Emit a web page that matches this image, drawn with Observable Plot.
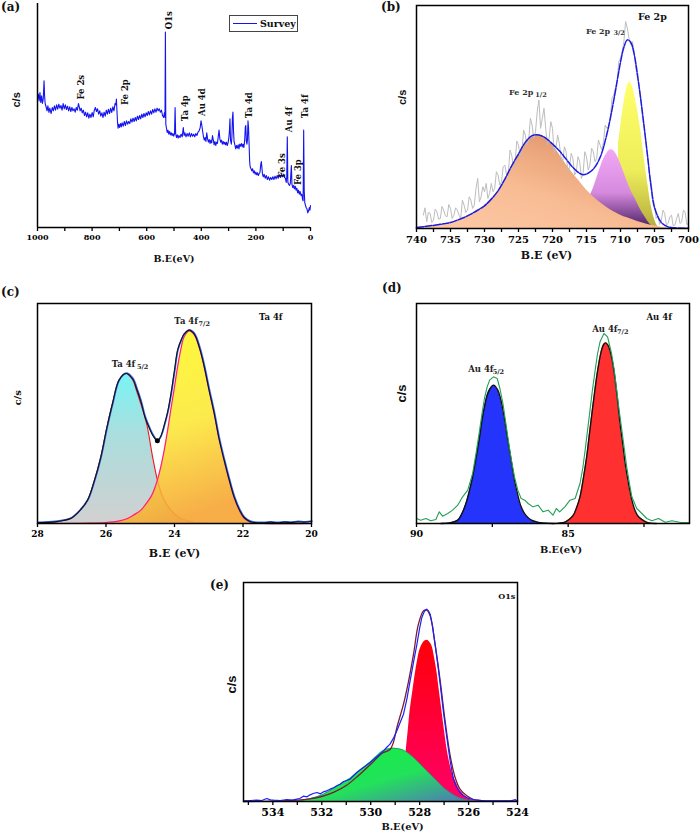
<!DOCTYPE html>
<html><head><meta charset="utf-8">
<script src="https://cdn.jsdelivr.net/npm/d3@7"></script>
<script src="https://cdn.jsdelivr.net/npm/@observablehq/plot@0.6"></script>
<style>
html,body{margin:0;padding:0;background:#fff;}
#fig{position:relative;width:700px;height:839px;overflow:hidden;background:#fff;}
.pn{position:absolute;}
.lab{position:absolute;font-family:"DejaVu Serif";font-weight:bold;font-size:12px;line-height:12px;color:#111;}
</style></head><body><div id="fig"></div><script>
// ---------- DATA (binding energy eV, intensity arbitrary counts) ----------
const survey = [[1000,385],[997,400],[994,380],[991,405],[988,375],[985,395],[982,372],[979,385],[976,440],[974,395],[972,372],[968,360],[965,350],[962,365],[958,345],[955,358],[950,342],[946,360],[942,350],[938,365],[934,352],[930,368],[926,355],[922,370],[918,358],[914,366],[910,352],[906,372],[902,356],[898,368],[894,354],[890,364],[886,350],[882,362],[878,348],[874,360],[870,350],[866,356],[862,346],[858,360],[854,352],[850,372],[847,362],[844,350],[840,358],[836,344],[832,352],[828,336],[824,346],[820,332],[816,344],[812,328],[808,340],[804,330],[800,345],[796,332],[792,352],[788,360],[784,348],[780,356],[776,340],[772,350],[768,334],[764,344],[760,330],[756,346],[752,334],[748,352],[744,340],[740,355],[736,342],[732,358],[728,345],[724,362],[720,350],[716,372],[713,368],[711,385],[709,350],[707,318],[705,298],[702,310],[699,300],[696,312],[693,302],[690,314],[686,304],[682,318],[678,306],[674,320],[670,310],[666,318],[662,312],[658,326],[654,316],[650,328],[646,318],[642,330],[638,320],[634,334],[630,324],[626,336],[622,326],[618,340],[614,330],[610,342],[606,332],[602,344],[598,336],[594,348],[590,338],[586,350],[582,340],[578,354],[574,344],[570,356],[566,346],[562,358],[558,350],[554,356],[550,346],[546,352],[542,336],[538,330],[535,345],[533,330],[531.5,586],[530,310],[528,300],[525,285],[522,292],[519,280],[516,288],[513,278],[510,284],[507,276],[504,282],[501,274],[498,282],[496,360],[494,282],[491,270],[488,278],[485,268],[482,276],[478,270],[474,280],[470,272],[466,300],[463,276],[460,284],[456,272],[452,282],[448,274],[444,284],[440,272],[436,282],[432,274],[428,280],[424,272],[420,282],[416,276],[412,286],[408,290],[404,300],[401,320],[398,306],[395,288],[392,272],[389,262],[386,270],[383,258],[380,284],[377,266],[374,256],[371,264],[368,252],[365,262],[362,254],[359,276],[356,262],[353,248],[350,258],[347,246],[344,256],[341,252],[338,272],[335,292],[332,266],[329,256],[326,262],[323,250],[320,258],[317,250],[314,256],[311,248],[308,256],[305,246],[302,254],[299,270],[297,290],[295,326],[293,262],[290,250],[288,270],[286,330],[284,346],[282,290],[280,258],[277,248],[274,236],[271,246],[268,238],[265,248],[262,236],[259,250],[256,244],[253,252],[250,242],[247,250],[244,240],[241,262],[239,300],[237,306],[235,260],[233,250],[231,262],[229,320],[227,300],[225,252],[223,200],[221,182],[218,176],[215,170],[212,176],[209,164],[206,170],[203,160],[200,166],[197,158],[194,164],[191,156],[188,162],[185,166],[182,190],[180,198],[178,180],[176,160],[173,152],[170,160],[166,148],[162,156],[158,144],[154,152],[150,142],[146,150],[142,144],[138,152],[134,144],[130,154],[126,146],[122,156],[118,148],[114,158],[110,150],[106,160],[102,152],[98,160],[95,150],[92,148],[89,135],[87,150],[85,272],[83,136],[80,130],[77,126],[74,132],[71,175],[70,186],[68,130],[65,120],[62,126],[59,116],[56,124],[53,112],[50,118],[47,104],[44,112],[41,100],[38,108],[35,96],[32,100],[29,84],[27,80],[25,292],[23,110],[21,75],[19,68],[16,60],[13,56],[10,44],[7,50],[4,60],[2,52],[0,66]];
const surveyPeakNames = ["Fe 2s","Fe 2p","O1s","Ta 4p","Au 4d","Ta 4d","Au 4f","Ta 4f","Fe 3s","Fe 3p"];
const surveyPeakBE = [840, 678, 519, 458, 397, 223, 77, 18, 104, 45];
const surveyPeakY = [421, 406, 622, 358, 376, 367, 324, 364, 186, 166];

const fe2pRaw = [[739,40],[738.75,62],[738.5,20],[738.25,48],[738,45],[737.75,18],[737.5,25],[737.25,58],[737,50],[736.75,28],[736.5,30],[736.25,66],[736,55],[735.75,38],[735.5,35],[735.25,72],[735,60],[734.75,30],[734.5,40],[734.25,62],[734,55],[733.75,40],[733.5,30],[733.25,85],[733,70],[732.75,48],[732.5,55],[732.25,95],[732,85],[731.75,60],[731.5,70],[731.25,120],[731,150],[730.75,80],[730.5,95],[730.25,125],[730,110],[729.75,135],[729.5,90],[729.25,105],[729,135],[728.75,110],[728.5,120],[728.25,170],[728,160],[727.75,130],[727.5,140],[727.25,185],[727,190],[726.75,160],[726.5,165],[726.25,235],[726,220],[725.75,185],[725.5,200],[725.25,262],[725,250],[724.75,215],[724.5,230],[724.25,295],[724,280],[723.75,250],[723.5,265],[723.25,330],[723,310],[722.75,270],[722.5,290],[722.25,350],[722,385],[721.75,300],[721.5,330],[721.25,360],[721,300],[720.75,250],[720.5,270],[720.25,320],[720,300],[719.75,225],[719.5,240],[719.25,280],[719,255],[718.75,215],[718.5,200],[718.25,245],[718,230],[717.75,170],[717.5,180],[717.25,225],[717,210],[716.75,160],[716.5,170],[716.25,215],[716,200],[715.75,150],[715.5,165],[715.25,230],[715,215],[714.75,175],[714.5,190],[714.25,240],[714,230],[713.75,200],[713.5,210],[713.25,265],[713,250],[712.75,235],[712.5,260],[712.25,310],[712,300],[711.75,305],[711.5,330],[711.25,390],[711,400],[710.75,420],[710.5,440],[710.25,500],[710,510],[709.75,530],[709.5,560],[709.25,620],[709,600],[708.75,570],[708.5,550],[708.25,560],[708,530],[707.75,480],[707.5,450],[707.25,430],[707,390],[706.75,330],[706.5,300],[706.25,260],[706,220],[705.75,165],[705.5,140],[705.25,95],[705,70],[704.75,30],[704.5,40],[704.25,12],[704,25],[703.75,55],[703.5,45],[703.25,10],[703,15],[702.75,35],[702.5,40],[702.25,8],[702,10],[701.75,30],[701.5,45],[701.25,15],[701,20],[700.75,55],[700.5,50],[700.25,12],[700,15]];
const fe2pEnvelope = [[740,3],[738,8],[736,14],[735,18],[734,25],[733,33],[732,43],[731,55],[730,68],[729,88],[728,113],[727,148],[726,188],[725,223],[724,258],[723,278],[722,280],[721,271],[720,253],[719,233],[718,208],[717,183],[716,165],[715.5,161],[715,163],[714,178],[713,213],[712,283],[711,383],[710,498],[709.5,543],[709,565],[708.5,558],[708,523],[707,383],[706,213],[705.5,125],[705,63],[704,18],[703,5],[702,2],[700,1]];
const fe2p12 = [[740,3],[738,8],[736,14],[735,18],[734,25],[733,33],[732,43],[731,55],[730,68],[729,88],[728,113],[727,148],[726,188],[725,223],[724,258],[723,278],[722,280],[721,271],[720,250],[719,222],[718,192],[717,165],[716,140],[715,115],[714,95],[713,78],[712,63],[711,50],[710,40],[709,32],[708,25],[707,18],[706,12],[705,8],[704,4],[703,2],[702,0],[700,0]];
const fe2pSat = [[714.6,92],[714,120],[713.5,150],[713,180],[712.5,207],[712,225],[711.5,236],[711,233],[710.5,218],[710,195],[709.5,168],[709,140],[708.5,115],[708,95],[707.5,75],[707,55],[706.5,38],[706,22],[705.5,10],[705,3],[704.6,0]];
const fe2p32 = [[710.3,253],[710,300],[709.5,375],[709,425],[708.7,438],[708.4,433],[708,405],[707.5,355],[707,290],[706.5,210],[706,135],[705.5,70],[705,28],[704.5,6],[704,0]];

const ta4fEnvelope = [[28,2],[27.5,5],[27.25,9],[27.03,15],[26.8,35],[26.54,70],[26.35,125],[26.15,200],[25.98,285],[25.81,360],[25.62,430],[25.42,450],[25.23,435],[25.1,402],[24.98,365],[24.86,318],[24.74,287],[24.62,262],[24.5,248],[24.4,262],[24.3,295],[24.2,335],[24.11,385],[24.0,460],[23.91,520],[23.8,552],[23.72,568],[23.57,580],[23.45,572],[23.38,560],[23.25,520],[23.13,470],[23.0,405],[22.84,330],[22.7,255],[22.55,190],[22.4,130],[22.26,80],[22.1,40],[21.97,18],[21.8,6],[21.67,3],[21.4,2],[21.2,4],[21.0,2],[20.8,4],[20.6,3],[20.4,5],[20.2,4],[20,6]];
const ta4f52 = [[28,1],[27.5,4],[27.25,9],[27.03,15],[26.8,35],[26.54,70],[26.35,125],[26.15,200],[25.98,285],[25.81,360],[25.62,430],[25.42,450],[25.23,432],[25.1,396],[24.98,358],[24.88,325],[24.79,288],[24.64,200],[24.5,130],[24.4,95],[24.3,70],[24.11,40],[23.95,24],[23.82,15],[23.6,7],[23.43,3],[23.2,1],[23,0]];
const ta4f72 = [[28,0],[26.5,1],[26,3],[25.6,8],[25.37,15],[25.2,25],[24.98,40],[24.84,58],[24.69,80],[24.6,100],[24.5,130],[24.4,170],[24.3,220],[24.2,280],[24.11,340],[24.0,410],[23.91,470],[23.8,530],[23.72,560],[23.57,578],[23.45,570],[23.38,558],[23.25,518],[23.13,468],[23.0,403],[22.84,328],[22.7,253],[22.55,188],[22.4,128],[22.26,78],[22.1,38],[21.97,16],[21.8,5],[21.67,2],[21.4,0],[20,0]];
const ta4fDip = [[24.5,248]];

const au4fRaw = [[90,15],[89.86,10],[89.69,15],[89.53,8],[89.36,12],[89.25,35],[89.14,22],[88.97,30],[88.81,40],[88.64,55],[88.48,80],[88.31,100],[88.15,150],[88.03,215],[87.92,280],[87.84,330],[87.76,375],[87.67,410],[87.59,430],[87.46,440],[87.34,435],[87.25,405],[87.15,360],[87.07,310],[86.99,260],[86.88,195],[86.77,140],[86.66,100],[86.55,75],[86.43,70],[86.32,60],[86.16,50],[85.99,55],[85.83,35],[85.66,40],[85.5,25],[85.39,45],[85.28,35],[85.11,50],[84.94,70],[84.77,75],[84.61,120],[84.52,165],[84.44,220],[84.36,280],[84.28,340],[84.2,400],[84.11,460],[84.03,510],[83.95,545],[83.82,570],[83.7,560],[83.57,510],[83.48,460],[83.4,400],[83.32,340],[83.23,280],[83.15,225],[83.07,170],[82.98,120],[82.9,80],[82.74,45],[82.57,30],[82.41,15],[82.24,8],[82.02,15],[81.8,4],[81.58,8],[81.3,3],[81,3]];
const au4f52 = [[89.2,0],[88.9,2],[88.64,10],[88.5,30],[88.37,60],[88.25,100],[88.15,140],[88.03,200],[87.92,260],[87.84,310],[87.76,350],[87.67,385],[87.59,402],[87.46,415],[87.32,400],[87.23,375],[87.15,340],[87.07,298],[86.99,250],[86.88,190],[86.77,130],[86.66,85],[86.55,50],[86.4,25],[86.21,10],[86.0,4],[85.88,2],[85.5,0]];
const au4f72 = [[85.5,0],[85.3,1],[85.11,4],[84.97,12],[84.83,25],[84.72,48],[84.61,80],[84.5,135],[84.39,200],[84.31,260],[84.23,320],[84.14,385],[84.06,440],[83.98,485],[83.9,520],[83.83,537],[83.76,542],[83.69,535],[83.62,518],[83.53,480],[83.45,430],[83.37,368],[83.29,300],[83.2,238],[83.12,180],[83.0,115],[82.9,70],[82.8,40],[82.68,20],[82.5,8],[82.35,2],[82.1,0]];

const o1sRaw = [[535.2,2],[534.9,3],[534.66,4],[534.45,3],[534.25,9],[534.1,5],[533.97,4],[533.7,3],[533.43,6],[533.2,4],[533.02,7],[532.9,9],[532.75,16],[532.6,14],[532.48,20],[532.35,24],[532.2,27],[532.05,23],[531.93,29],[531.8,32],[531.66,37],[531.5,42],[531.39,47],[531.25,52],[531.11,60],[530.98,63],[530.84,67],[530.7,78],[530.57,87],[530.43,95],[530.3,102],[530.15,110],[530.02,117],[529.88,126],[529.75,134],[529.6,143],[529.48,152],[529.35,162],[529.21,172],[529.07,190],[528.93,212],[528.8,236],[528.66,262],[528.52,308],[528.39,362],[528.25,418],[528.11,472],[528.0,520],[527.91,552],[527.81,570],[527.71,577],[527.64,572],[527.57,562],[527.47,525],[527.37,472],[527.26,412],[527.16,352],[527.03,270],[526.89,192],[526.75,120],[526.62,67],[526.48,42],[526.35,27],[526.2,17],[526.07,12],[525.95,8],[525.8,6],[525.6,4],[525.39,2],[525.1,2],[524.85,2],[524.6,2],[524.3,2],[524.15,4],[524.1,6],[524.05,3],[524,2]];
const o1sEnvelope = [[535.2,0],[534,1],[533,4],[532.5,8],[532,15],[531.5,28],[531,48],[530.5,78],[530,112],[529.5,146],[529.21,156],[529.07,178],[528.93,222],[528.66,292],[528.45,362],[528.25,442],[528.05,532],[527.84,572],[527.71,574],[527.57,557],[527.37,472],[527.16,362],[526.96,242],[526.75,137],[526.55,72],[526.35,37],[526.07,17],[525.8,6],[525.4,2],[524,1]];
const o1sOH = [[533.2,0],[532.75,4],[532.3,12],[531.93,22],[531.6,36],[531.25,52],[530.84,70],[530.57,86],[530.3,102],[530.0,120],[529.75,137],[529.55,150],[529.34,157],[529.07,160],[528.86,158],[528.66,154],[528.45,144],[528.25,132],[528.05,118],[527.84,102],[527.64,87],[527.43,72],[527.23,57],[527.03,42],[526.82,30],[526.62,20],[526.41,12],[526.21,7],[526.05,4],[525.94,2],[525.6,0]];
const o1sLattice = [[528.55,152],[528.47,210],[528.39,272],[528.28,330],[528.18,382],[528.08,425],[527.98,457],[527.87,474],[527.77,482],[527.68,484],[527.59,478],[527.5,467],[527.4,435],[527.3,392],[527.2,335],[527.09,272],[526.99,215],[526.89,162],[526.79,122],[526.69,92],[526.58,70],[526.48,52],[526.38,37],[526.28,27],[526.17,18],[526.07,12],[525.87,4],[525.66,2],[525.5,0]];

// annotation labels: [main text, sub text, x, y, subX, subY]
const fe2pLabels = [["Fe 2p", "3/2", 713.3, 591, 710.2, 585], ["Fe 2p", "1/2", 724.6, 408, 721.7, 401]];
const ta4fLabels = [["Ta 4f", "7/2", 23.66, 607, 23.13, 600], ["Ta 4f", "5/2", 25.49, 477, 24.93, 469]];
const au4fLabels = [["Au 4f", "7/2", 83.79, 582, 83.2, 574], ["Au 4f", "5/2", 87.88, 463, 87.3, 455]];

// ---------- helpers ----------
const SERIF = "DejaVu Serif", SANS = "Liberation Sans";
const pts = a => a.map(([x, y]) => ({x, y}));
const fig = document.getElementById("fig");

function addGradient(svg, id, x1, y1, x2, y2, stops) {
  let defs = d3.select(svg).select("defs");
  if (defs.empty()) defs = d3.select(svg).insert("defs", ":first-child");
  const g = defs.append("linearGradient").attr("id", id)
    .attr("x1", x1).attr("y1", y1).attr("x2", x2).attr("y2", y2);
  stops.forEach(([o, c]) => g.append("stop").attr("offset", o).attr("stop-color", c));
}

function panel(o) {
  const chart = Plot.plot({
    width: o.w, height: o.h,
    marginTop: o.m[0], marginRight: o.m[1], marginBottom: o.m[2], marginLeft: o.m[3],
    x: {domain: o.xd, axis: null, label: null},
    y: {domain: [0, o.ymax], axis: null, label: null},
    style: {background: "transparent", fontFamily: SERIF, fontWeight: "bold", fontSize: o.tickFont + "px", color: "#000", overflow: "visible"},
    marks: [
      ...o.marks,
      o.frame ? Plot.frame({stroke: "#000", strokeWidth: 1.5})
              : [Plot.ruleX([o.xd[0]], {stroke: "#000", strokeWidth: 1.5}), Plot.ruleY([0], {stroke: "#000", strokeWidth: 1.5})],
      Plot.axisX({ticks: o.ticks, tickFormat: d => o.showLabel(d) ? String(d) : "", tickSize: 4, tickPadding: 3,
                  strokeWidth: 1.3, fontSize: o.tickFont, fontWeight: "bold", label: null}),
      Plot.text([o.xLabel[0]], {text: d => d, frameAnchor: "bottom", dx: o.xLabel[1], dy: o.xLabel[2],
                  fontSize: o.xLabel[3], fontWeight: "bold", fontFamily: SERIF, fill: "#111"}),
      Plot.text([o.yLabel[0]], {text: d => d, frameAnchor: "left", rotate: -90, dx: o.yLabel[1], dy: o.yLabel[2],
                  fontSize: o.yLabel[3], fontFamily: o.yLabel[4], fontWeight: "bold", fill: "#111"})
    ]
  });
  (o.gradients || []).forEach(g => addGradient(chart, ...g));
  const div = document.createElement("div");
  div.className = "pn";
  div.style.left = o.left + "px"; div.style.top = o.top + "px";
  div.style.width = o.w + "px"; div.style.height = o.h + "px";
  div.appendChild(chart);
  fig.appendChild(div);
}

function subLabels(labels, mainSize, subSize, fill) {
  return [
    Plot.text(labels, {x: d => d[2], y: d => d[3], text: d => d[0], fontSize: mainSize, fontWeight: "bold", fontFamily: SERIF, fill}),
    Plot.text(labels, {x: d => d[4], y: d => d[5], text: d => d[1], fontSize: subSize, fontWeight: "bold", fontFamily: SERIF, fill})
  ];
}
function label(text, left, top) {
  const d = document.createElement("div");
  d.className = "lab"; d.textContent = text;
  d.style.left = left + "px"; d.style.top = top + "px";
  fig.appendChild(d);
}

// ---------- (a) survey ----------
panel({
  left: 0, top: 0, w: 350, h: 270, m: [3, 40, 43, 37],
  xd: [1000, 0], ymax: 672, frame: false,
  ticks: d3.range(0, 1001, 100), showLabel: d => d % 200 === 0, tickFont: 8,
  xLabel: ["B.E(eV)", 0, 34, 9.5], yLabel: ["c/s", -21, -8, 11, SANS],
  marks: [
    Plot.line(pts(survey), {x: "x", y: "y", stroke: "#1414f0", strokeWidth: 1.1}),
    Plot.text(surveyPeakNames, {x: (d, i) => surveyPeakBE[i], y: (d, i) => surveyPeakY[i], text: d => d, rotate: -90,
      fontSize: 8.5, fontWeight: "bold", fontFamily: SERIF, fill: "#111"})
  ]
});
// legend
{
  const lg = document.createElement("div");
  lg.style.cssText = "position:absolute;left:229px;top:15px;width:69px;height:17px;border:1px solid #444;box-sizing:border-box;background:#fff;";
  const ln = document.createElement("div");
  ln.style.cssText = "position:absolute;left:3px;top:7px;width:24px;border-top:1.3px solid #1414f0;";
  const tx = document.createElement("div");
  tx.textContent = "Survey";
  tx.style.cssText = "position:absolute;left:30px;top:2px;font-family:'DejaVu Serif';font-weight:bold;font-size:9.5px;line-height:11px;color:#111;";
  lg.appendChild(ln); lg.appendChild(tx); fig.appendChild(lg);
}

// ---------- (b) Fe 2p ----------
panel({
  left: 350, top: 0, w: 350, h: 270, m: [5, 12, 42, 66],
  xd: [740, 700], ymax: 668, frame: true,
  ticks: d3.range(700, 740.1, 2.5), showLabel: d => d % 5 === 0, tickFont: 10,
  xLabel: ["B.E (eV)", -6, 30, 11], yLabel: ["c/s", -14, -12, 11, SANS],
  gradients: [
    ["gB1", 0, 1, 1, 0, [[0, "#fdcaa6"], [0.4, "#f8bc94"], [0.65, "#eba47a"], [1, "#c47c54"]]],
    ["gB2", 0, 0, 0, 1, [[0, "#f2a8f6"], [0.55, "#d68ade"], [1, "#4a1e62"]]],
    ["gB3", 0, 0, 0, 1, [[0, "#ffff6a"], [0.6, "#eeee5c"], [1, "#b4ac3c"]]]
  ],
  marks: [
    Plot.areaY(pts(fe2p32), {x: "x", y: "y", fill: "url(#gB3)", curve: "catmull-rom"}),
    Plot.areaY(pts(fe2pSat), {x: "x", y: "y", fill: "url(#gB2)", curve: "catmull-rom"}),
    Plot.areaY(pts(fe2p12), {x: "x", y: "y", fill: "url(#gB1)", curve: "catmull-rom"}),
    Plot.line(pts(fe2pRaw), {x: "x", y: "y", stroke: "#bdbdbd", strokeWidth: 1}),
    Plot.line(pts(fe2pEnvelope), {x: "x", y: "y", stroke: "#1c1ce0", strokeWidth: 1.5, strokeDasharray: "7,1.5", curve: "catmull-rom"}),
    Plot.text(["Fe 2p"], {x: 705.3, y: 633, text: d => d, fontSize: 9.5, fontWeight: "bold", fontFamily: SERIF, fill: "#111"}),
    ...subLabels(fe2pLabels, 8, 6.5, "#333")
  ]
});

// ---------- (c) Ta 4f ----------
panel({
  left: 0, top: 270, w: 350, h: 290, m: [33, 39, 37, 37],
  xd: [28, 20], ymax: 660, frame: true,
  ticks: d3.range(20, 28.1, 2), showLabel: () => true, tickFont: 9,
  xLabel: ["B.E (eV)", 0, 33, 11], yLabel: ["c/s", -20, -8, 10, SERIF],
  gradients: [
    ["gC1", 0, 0, 0, 1, [[0, "#78f4f4"], [0.4, "#aadede"], [1, "#d2d0d0"]]],
    ["gC2", 0, 0, 0.5, 1, [[0, "#ffff1e"], [0.6, "#fce83a"], [1, "#f6a434"]]]
  ],
  marks: [
    Plot.areaY(pts(ta4f52), {x: "x", y: "y", fill: "url(#gC1)", curve: "catmull-rom"}),
    Plot.line(pts(ta4f52), {x: "x", y: "y", stroke: "#e8202a", strokeWidth: 1.2, curve: "catmull-rom"}),
    Plot.areaY(pts(ta4f72), {x: "x", y: "y", fill: "url(#gC2)", fillOpacity: 0.9, curve: "catmull-rom"}),
    Plot.line(pts(ta4f52).filter(d => d.x <= 24.5), {x: "x", y: "y", stroke: "#f3a53a", strokeWidth: 1.1, curve: "catmull-rom"}),
    Plot.line(pts(ta4f72), {x: "x", y: "y", stroke: "#ff1a8c", strokeWidth: 1.2, curve: "catmull-rom"}),
    Plot.line(pts(ta4fEnvelope), {x: "x", y: "y", stroke: "#3a6cf4", strokeWidth: 1.7, curve: "catmull-rom", dx: 0.4, dy: -0.4}),
    Plot.line(pts(ta4fEnvelope), {x: "x", y: "y", stroke: "#111", strokeWidth: 1.1, curve: "catmull-rom"}),
    Plot.dot(pts(ta4fDip), {x: "x", y: "y", r: 2.5, fill: "#000"}),
    Plot.text(["Ta 4f"], {x: 21.19, y: 620, text: d => d, fontSize: 8.5, fontWeight: "bold", fontFamily: SERIF, fill: "#111"}),
    ...subLabels(ta4fLabels, 8.5, 6.5, "#222")
  ]
});

// ---------- (d) Au 4f ----------
panel({
  left: 350, top: 270, w: 350, h: 290, m: [33, 11, 37, 66],
  xd: [90, 81], ymax: 660, frame: true,
  ticks: [90, 87.5, 85, 82.5], showLabel: d => d % 5 === 0, tickFont: 9.5,
  xLabel: ["B.E(eV)", 8, 29, 9.8], yLabel: ["c/s", -15, -11, 13, SANS],
  marks: [
    Plot.areaY(pts(au4f52), {x: "x", y: "y", fill: "#2434fa", curve: "catmull-rom"}),
    Plot.areaY(pts(au4f72), {x: "x", y: "y", fill: "#ff3030", curve: "catmull-rom"}),
    Plot.line(pts(au4f52), {x: "x", y: "y", stroke: "#111", strokeWidth: 1.4, curve: "catmull-rom"}),
    Plot.line(pts(au4f72), {x: "x", y: "y", stroke: "#111", strokeWidth: 1.4, curve: "catmull-rom"}),
    Plot.line(pts(au4fRaw), {x: "x", y: "y", stroke: "#22a055", strokeWidth: 1.1}),
    Plot.text(["Au 4f"], {x: 82.0, y: 620, text: d => d, fontSize: 8.5, fontWeight: "bold", fontFamily: SERIF, fill: "#111"}),
    ...subLabels(au4fLabels, 8.5, 6.5, "#222")
  ]
});

// ---------- (e) O1s ----------
panel({
  left: 190, top: 560, w: 350, h: 279, m: [22, 23, 38, 53],
  xd: [535.2, 524], ymax: 657, frame: true,
  ticks: d3.range(524, 535.1, 1), showLabel: d => d % 2 === 0, tickFont: 11,
  xLabel: ["B.E(eV)", 22, 28, 9.8], yLabel: ["c/s", -12, 1.5, 13, SANS],
  gradients: [
    ["gE1", 0, 0, 1, 1, [[0, "#10f040"], [0.55, "#22e25a"], [1, "#5470c0"]]],
    ["gE2", 0, 0, 0, 1, [[0, "#ff0008"], [1, "#ff0068"]]]
  ],
  marks: [
    Plot.areaY(pts(o1sLattice), {x: "x", y: "y", fill: "url(#gE2)", curve: "catmull-rom"}),
    Plot.areaY(pts(o1sOH), {x: "x", y: "y", fill: "url(#gE1)", curve: "catmull-rom"}),
    Plot.line(pts(o1sOH), {x: "x", y: "y", stroke: "#2a8a78", strokeWidth: 0.8, curve: "catmull-rom"}),
    Plot.line(pts(o1sEnvelope), {x: "x", y: "y", stroke: "#7a1c32", strokeWidth: 1.3, curve: "catmull-rom"}),
    Plot.line(pts(o1sRaw), {x: "x", y: "y", stroke: "#1e1ef5", strokeWidth: 1.2}),
    Plot.text(["O1s"], {x: 524.44, y: 616, text: d => d, fontSize: 8, fontWeight: "bold", fontFamily: SERIF, fill: "#111"})
  ]
});

// panel letters
label("(a)", 1, 1);
label("(b)", 381, 1);
label("(c)", 1, 286);
label("(d)", 382, 282);
label("(e)", 210, 579);
</script></body></html>
